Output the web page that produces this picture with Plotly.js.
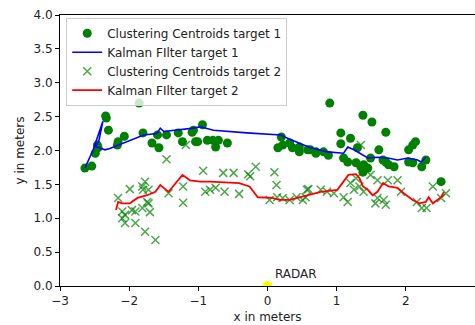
<!DOCTYPE html>
<html>
<head>
<meta charset="utf-8">
<script src="https://cdn.plot.ly/plotly-3.0.1.min.js"></script>
<style>html,body{margin:0;padding:0;background:#fff;}#chart{width:475px;height:325px;}</style>
</head>
<body>
<div id="chart"></div>
<script>
// Clustering centroids, target 1
const c1x = [-1.855,-2.34,-2.33,-2.30,-2.07,-2.16,-2.17,-2.46,-2.49,-2.45,-2.64,-2.54,-1.80,-1.67,-1.57,-1.59,-1.46,-1.29,-1.23,-1.09,-1.04,-0.94,-1.07,-1.01,-0.87,-0.75,-0.71,-0.58,-0.79,0.20,0.15,0.22,0.32,0.36,0.46,0.58,0.46,0.70,0.90,1.38,1.51,1.71,1.06,1.20,1.06,1.30,1.61,0.62,0.70,0.81,0.88,1.10,1.16,1.28,1.35,1.39,1.49,1.45,1.38,1.67,1.75,1.83,1.71,2.10,2.14,2.04,2.04,2.10,2.29,2.23,2.51];
const c1y = [2.70,2.51,2.48,2.30,2.21,2.13,2.08,2.08,1.96,2.04,1.74,1.77,2.26,2.11,2.04,2.23,2.23,2.26,2.13,2.27,2.13,2.38,2.30,2.13,2.15,2.05,2.15,2.11,2.15,2.20,2.04,2.08,2.11,2.04,2.05,2.01,1.98,1.98,2.70,2.52,2.42,2.27,2.26,2.18,2.10,2.04,2.01,2.01,1.96,1.98,1.93,1.89,1.83,1.82,1.76,1.79,1.89,1.74,1.68,1.86,1.79,1.76,1.83,2.08,2.13,2.01,1.83,1.82,1.86,1.76,1.54];
// Kalman filter, target 1
const k1x = [-2.64,-2.52,-2.38,-2.44,-2.49,-2.42,-2.35,-2.28,-2.16,-1.99,-1.79,-1.60,-1.55,-1.50,-1.31,-1.07,-0.97,-0.78,-0.30,0.19,0.29,0.41,0.48,0.62,0.87,1.10,1.16,1.25,1.45,1.59,1.74,1.88,2.03,2.17,2.22,2.29];
const k1y = [1.74,2.01,2.43,2.13,2.06,2.03,2.01,2.03,2.08,2.15,2.23,2.25,2.33,2.28,2.30,2.33,2.35,2.30,2.26,2.23,2.18,2.13,2.10,2.04,1.98,1.96,2.05,2.01,1.89,1.90,1.89,1.86,1.89,1.86,1.83,1.90];
// Clustering centroids, target 2
const c2x = [-2.16,-1.99,-1.81,-1.77,-1.72,-1.80,-1.74,-1.72,-1.81,-1.96,-1.91,-2.06,-2.10,-2.06,-1.91,-1.70,-1.77,-1.62,-1.43,-1.22,-1.22,-1.46,-1.18,-0.93,-0.64,-0.49,-0.28,-0.17,-0.25,0.10,0.13,-0.90,-0.83,-0.75,-0.62,-0.41,0.03,0.14,0.22,0.32,0.42,0.55,0.59,0.51,0.57,0.77,0.86,0.96,1.10,1.20,1.28,1.25,1.33,1.39,1.16,1.35,1.49,1.59,1.74,1.88,1.59,1.68,1.56,1.71,1.93,2.16,2.23,2.30,2.39,2.58,2.51,-2.10];
const c2y = [1.30,1.43,1.47,1.54,1.42,1.42,1.24,1.22,1.15,1.12,1.10,1.05,1.00,0.93,0.93,1.09,0.80,0.68,1.37,1.47,1.23,1.87,2.08,1.70,1.67,1.67,1.65,1.76,1.62,1.68,1.49,1.39,1.42,1.45,1.39,1.36,1.27,1.31,1.30,1.27,1.31,1.31,1.43,1.27,1.42,1.42,1.39,1.37,1.31,1.52,1.59,1.42,1.47,1.39,1.24,2.08,1.64,1.56,1.56,1.56,1.30,1.27,1.22,1.20,1.39,1.24,1.15,1.15,1.47,1.37,1.30,1.10];
// Kalman filter, target 2
const k2x = [-2.19,-2.16,-2.10,-1.99,-1.88,-1.74,-1.62,-1.55,-1.43,-1.23,-1.12,-0.97,-0.83,-0.41,-0.26,-0.14,0.07,0.17,0.32,0.48,0.77,1.01,1.10,1.17,1.28,1.33,1.38,1.45,1.52,1.59,1.67,1.75,1.88,1.97,2.10,2.19,2.29,2.33,2.39,2.51,2.55];
const k2y = [1.12,1.24,1.22,1.22,1.30,1.34,1.39,1.49,1.39,1.64,1.56,1.54,1.54,1.52,1.47,1.31,1.30,1.27,1.27,1.31,1.39,1.42,1.54,1.64,1.65,1.59,1.47,1.42,1.34,1.39,1.52,1.47,1.45,1.37,1.27,1.22,1.24,1.31,1.22,1.31,1.39];
// Radar position
const radarX = [0];
const radarY = [0];
const radarLabel = "RADAR";
const xTicks = [-3,-2,-1,0,1,2,3];
const yTicks = [0,0.5,1,1.5,2,2.5,3,3.5,4];

const font = {family: "DejaVu Sans, sans-serif", size: 12, color: "#222"};

const traces = [
  {x: c1x, y: c1y, type: "scatter", mode: "markers", name: "Clustering Centroids target 1",
   marker: {symbol: "circle", size: 9, color: "#008000"}},
  {x: k1x, y: k1y, type: "scatter", mode: "lines", name: "Kalman FIlter target 1",
   line: {color: "#0000ff", width: 1.6}},
  {x: c2x, y: c2y, type: "scatter", mode: "markers", name: "Clustering Centroids target 2",
   marker: {symbol: "x-thin-open", size: 8, color: "rgba(0,128,0,0.7)", line: {color: "rgba(0,128,0,0.7)", width: 1.5}}},
  {x: k2x, y: k2y, type: "scatter", mode: "lines", name: "Kalman FIlter target 2",
   line: {color: "#ff0000", width: 1.8}},
  {x: radarX, y: radarY, type: "scatter", mode: "markers", showlegend: false,
   marker: {symbol: "circle", size: 10, color: "#ffff00"}, cliponaxis: true}
];

const layout = {
  width: 475, height: 325,
  margin: {l: 60, r: 0, t: 15, b: 39},
  paper_bgcolor: "#fff", plot_bgcolor: "#fff",
  font: font,
  showlegend: true,
  legend: {x: 0.015, y: 0.99, xanchor: "left", yanchor: "top", bgcolor: "rgba(255,255,255,0.8)",
           bordercolor: "#cccccc", borderwidth: 1, font: font, tracegroupgap: 0},
  xaxis: {range: [-3, 3], tickvals: xTicks, ticks: "outside", ticklen: 4, tickcolor: "#000",
          showline: true, linecolor: "#000", linewidth: 1, mirror: true, showgrid: false, zeroline: false,
          title: {text: "x in meters", font: font, standoff: 5}, tickfont: font},
  yaxis: {range: [0, 4], tickvals: yTicks, tickformat: ".1f", ticks: "outside", ticklen: 4, tickcolor: "#000",
          showline: true, linecolor: "#000", linewidth: 1, mirror: true, showgrid: false, zeroline: false,
          title: {text: "y in meters", font: font, standoff: 6}, tickfont: font},
  annotations: [{x: radarX[0] + 0.08, y: radarY[0] + 0.05, xref: "x", yref: "y", text: radarLabel,
                 showarrow: false, xanchor: "left", yanchor: "bottom", font: font}]
};

Plotly.newPlot("chart", traces, layout, {staticPlot: true});
</script>
</body>
</html>
